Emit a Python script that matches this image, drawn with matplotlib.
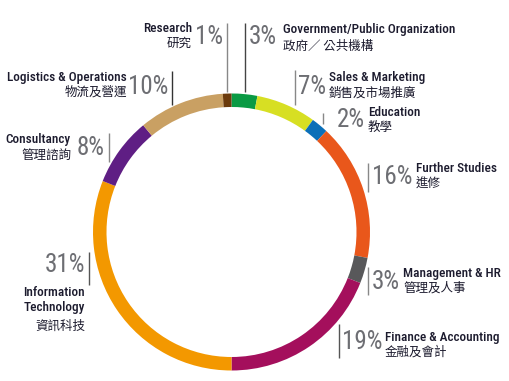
import os
import matplotlib
matplotlib.use("Agg")
import matplotlib.pyplot as plt
from matplotlib import font_manager as fm

# ---------------- data ----------------
categories = ["Government/Public Organization", "Sales & Marketing", "Education",
              "Further Studies", "Management & HR", "Finance & Accounting",
              "Information\nTechnology", "Consultancy", "Logistics & Operations", "Research"]
categories_zh = ["政府／ 公共機構", "銷售及市場推廣", "教學", "進修", "管理及人事",
                 "金融及會計", "資訊科技", "管理諮詢", "物流及營運", "研究"]
shares = [3, 7, 2, 16, 3, 19, 31, 8, 10, 1]
colors = ["#0A9A44", "#D7DF23", "#0B6FB8", "#E9571B", "#58585A",
          "#A40F5C", "#F39800", "#5F1E84", "#C9A063", "#6B3A0C"]

# ---------------- layout (pixel coords, y downward) ----------------
W, H = 510, 381
# side, line_x, line_y0, line_y1, pct_x, pct_y, label_x, label_y, zh_y
layout = [
    ("R", 245, 23, 92, 249, 37, 283, 30, 46),
    ("R", 295, 70, 105, 298, 87, 329, 78, 93),
    ("R", 323, 113, 124, 337, 120, 368, 112, 127),
    ("R", 368, 163, 192, 372, 177, 416, 168, 184),
    ("R", 368, 267, 295, 372, 282, 403, 273, 288),
    ("R", 339, 324, 358, 342, 342, 385, 337, 352),
    ("L", 89, 252, 285, 85, 265, 85, 300, 326),
    ("L", 109, 133, 162, 105, 148, 71, 140, 155),
    ("L", 172, 71, 105, 168, 87, 127, 77, 92),
    ("L", 227, 23, 92, 223, 37, 192, 28, 43),
]
line_colors = ["#444444", "#888888", "#888888", "#888888", "#888888",
               "#555555", "#555555", "#888888", "#333333", "#888888"]


def find_font(keys):
    files = [f.fname for f in fm.fontManager.ttflist]
    for k in keys:
        for fn in files:
            if os.path.basename(fn).lower().startswith(k):
                return fn
    return None


reg_file = find_font(["robotocondensed-regular", "liberationsansnarrow-regular",
                      "dejavusanscondensed.", "notosans-condensed.", "notosans-condensedregular",
                      "opensans_condensed-regular", "opensans-condensedregular",
                      "ubuntucondensed"])
med_file = find_font(["robotocondensed-medium", "robotocondensed-bold",
                      "liberationsansnarrow-bold.", "dejavusanscondensed-bold.",
                      "notosans-condensedmedium", "notosans-condensedsemibold"]) or reg_file

if reg_file:
    SCALE = 1.0
    def pct_fp(size):
        return fm.FontProperties(fname=reg_file, size=size)
    def lab_fp(size):
        return fm.FontProperties(fname=med_file, size=size)
else:
    SCALE = 0.85
    def pct_fp(size):
        return fm.FontProperties(family=["Roboto", "DejaVu Sans"], size=size)
    def lab_fp(size):
        return fm.FontProperties(family=["Roboto", "DejaVu Sans"], weight="medium", size=size)

CJK = ["Noto Sans CJK TC", "DejaVu Sans"]
PCT_COLOR = "#6d6e73"
TXT_COLOR = "#1c1b2e"

fig = plt.figure(figsize=(W / 100, H / 100), dpi=100)
ax = fig.add_axes([0, 0, 1, 1])


def Y(y):
    return H - y


cx, cy, R = 231.5, 232, 138.5
ax.pie(shares, colors=colors, startangle=90, counterclock=False,
       center=(cx, Y(cy)), radius=R, frame=True,
       wedgeprops=dict(width=13.5, edgecolor="none", linewidth=0))

for i, (side, lx, ly0, ly1, px, py, tx, ty, zy) in enumerate(layout):
    ax.plot([lx, lx], [Y(ly0), Y(ly1)], color=line_colors[i], lw=1.0,
            solid_capstyle="butt")
    ha = "left" if side == "R" else "right"
    ax.text(px, Y(py), f"{shares[i]}%", ha=ha, va="center",
            fontproperties=pct_fp(18 * SCALE), color=PCT_COLOR)
    ax.text(tx, Y(ty), categories[i], ha=ha, va="center",
            fontproperties=lab_fp(9.5 * SCALE), color=TXT_COLOR, linespacing=1.2)
    ax.text(tx, Y(zy), categories_zh[i], ha=ha, va="center", fontsize=9,
            fontweight="medium", color=TXT_COLOR, family=CJK)

ax.set_xlim(0, W)
ax.set_ylim(0, H)
ax.set_aspect("auto")
ax.axis("off")

fig.savefig("out.png", dpi=100, facecolor="white")
